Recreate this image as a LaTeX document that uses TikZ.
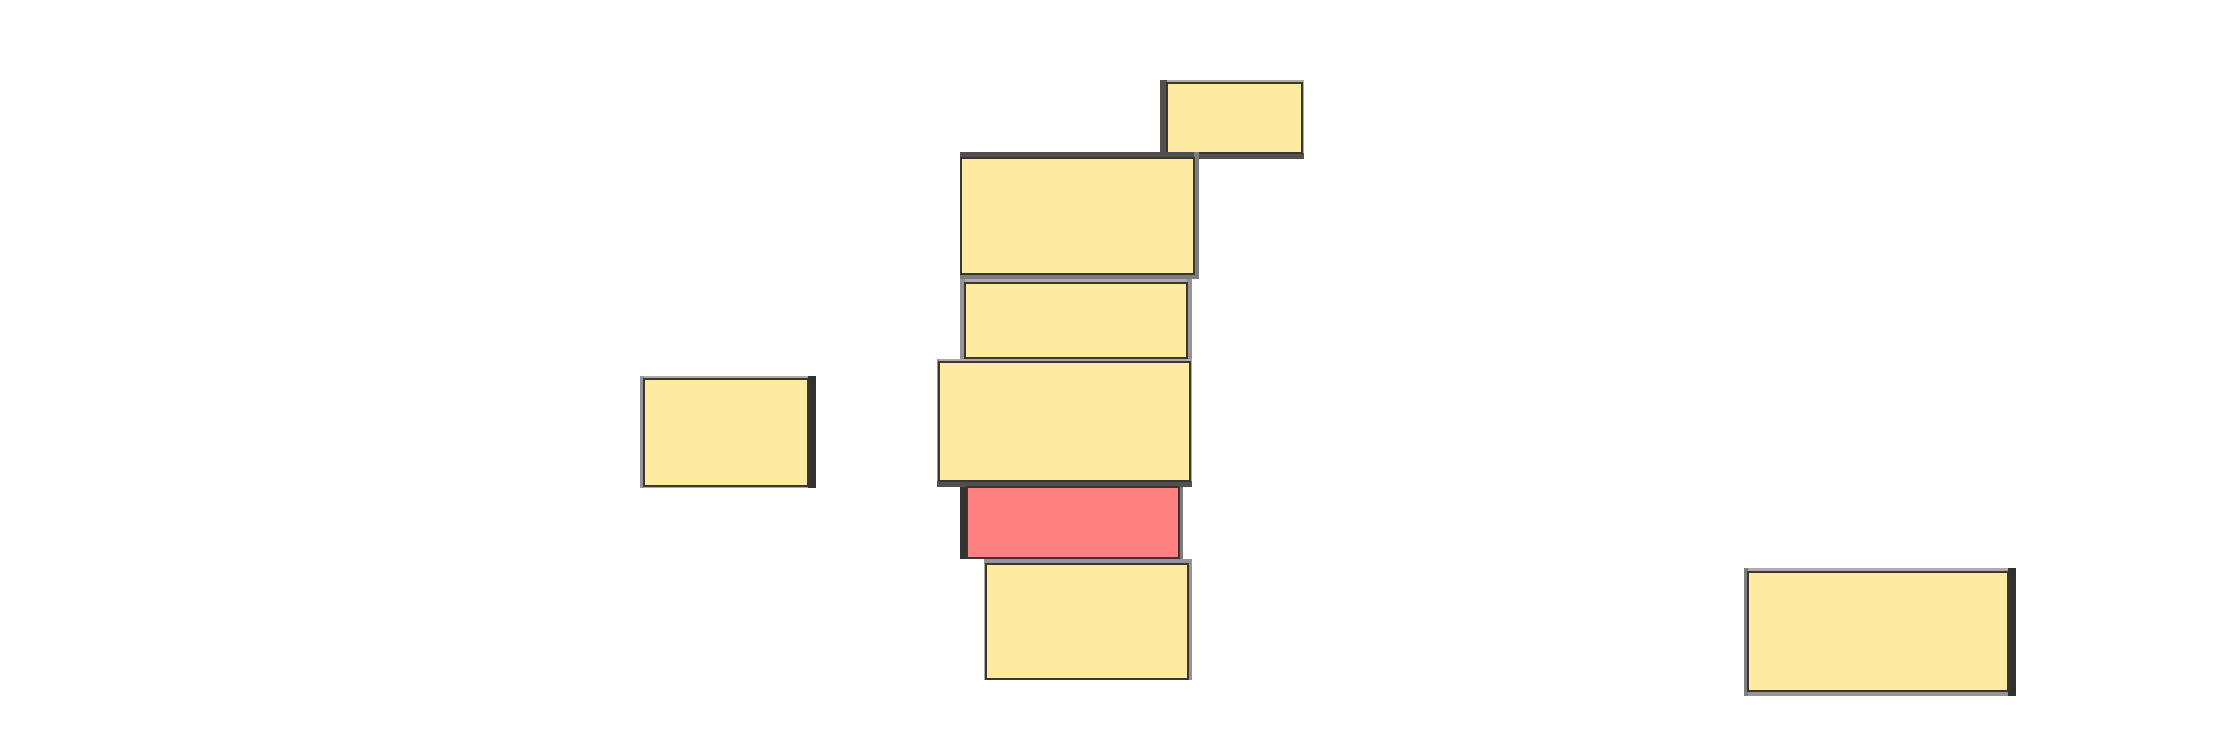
\documentclass[tikz,border=0pt]{standalone}
\usetikzlibrary{fit}
\definecolor{note}{RGB}{255,235,160}
\definecolor{alert}{RGB}{255,128,128}
\definecolor{edge}{RGB}{58,54,50}
\definecolor{bdark}{RGB}{50,50,50}
\definecolor{bmid}{RGB}{82,79,79}
\definecolor{bgray}{RGB}{125,125,125}
\definecolor{bsoft}{RGB}{150,148,148}
\definecolor{blight}{RGB}{176,171,169}
\tikzset{
  box/.style={draw=edge, line width=0.8pt, fill=note, inner sep=0pt},
  redbox/.style={box, fill=alert},
}
\newcommand\band[5]{\fill[#1] (#2,#3) rectangle (#4,#5);}
\begin{document}
\begin{tikzpicture}[x=0.02cm,y=-0.02cm]
\useasboundingbox[fill=white] (0,0) rectangle (2223,739);
% Box A
\band{blight}{1160}{80}{1304}{83}
\band{bmid}{1160}{153}{1304}{159}
\band{blight}{1302}{80}{1304}{153}
\band{bmid}{1160}{80}{1167}{159}
\node[box, fit={(1167,83)(1302,153)}] (A) {};
% Box B
\band{bmid}{960}{152}{1199}{158}
\band{bgray}{960}{274}{1199}{279}
\band{blight}{960}{158}{961}{274}
\band{bgray}{1194}{152}{1199}{279}
\node[box, fit={(961,158)(1194,274)}] (B) {};
% Box C
\band{blight}{960}{279}{1192}{283}
\band{blight}{960}{358}{1192}{359}
\band{bsoft}{960}{279}{965}{359}
\band{bsoft}{1187}{279}{1192}{359}
\node[box, fit={(965,283)(1187,358)}] (C) {};
% Box E
\band{blight}{937}{359}{1192}{362}
\band{bmid}{937}{481}{1192}{487}
\band{bsoft}{937}{359}{939}{481}
\band{blight}{1190}{359}{1192}{481}
\node[box, fit={(939,362)(1190,481)}] (E) {};
% Box D
\band{blight}{640}{376}{816}{379}
\band{blight}{640}{486}{816}{488}
\band{bsoft}{640}{376}{644}{488}
\band{bdark}{808}{376}{816}{488}
\node[box, fit={(644,379)(808,486)}] (D) {};
% Box F (red)
\band{bdark}{960}{487}{967}{559}
\band{bgray}{1179}{487}{1183}{559}
\node[redbox, fit={(967,487)(1179,558)}] (F) {};
% Box G
\band{bsoft}{984}{559}{1192}{564}
\band{blight}{984}{564}{986}{680}
\band{bsoft}{1188}{559}{1192}{680}
\node[box, fit={(986,564)(1188,679)}] (G) {};
% Box H
\band{blight}{1744}{568}{2016}{572}
\band{bsoft}{1744}{691}{2016}{696}
\band{bgray}{1744}{568}{1748}{696}
\band{bdark}{2008}{568}{2016}{696}
\node[box, fit={(1748,572)(2008,691)}] (H) {};
\end{tikzpicture}
\end{document}
